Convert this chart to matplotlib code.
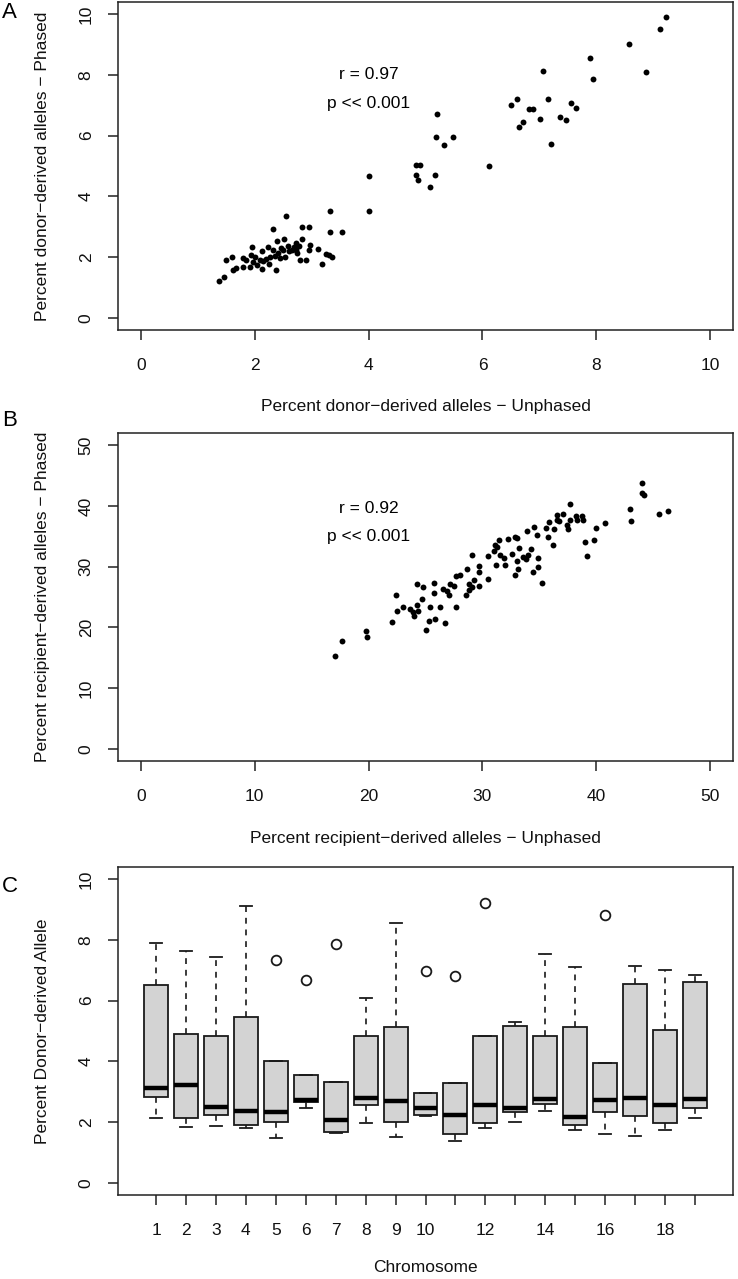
import matplotlib
matplotlib.use("Agg")
import matplotlib.pyplot as plt
import numpy as np

plt.rcParams['font.family'] = ['Liberation Sans', 'DejaVu Sans']

# ---------------- Data ----------------
# Panel A: donor-derived alleles (unphased vs phased)
a_unphased = [1.37, 1.46, 1.49, 1.60, 1.62, 1.68, 1.79, 1.80, 1.91, 1.95, 1.94, 1.97, 2.00, 2.04,
              2.09, 2.12, 2.15, 2.20, 2.24, 2.27, 2.32, 2.32, 2.35, 2.38, 2.39, 2.41, 2.44, 2.46,
              2.50, 2.52, 2.54, 2.55, 2.58, 2.61, 2.66, 2.69, 2.72, 2.73, 2.75, 2.78, 2.80, 2.83,
              2.83, 2.91, 2.95, 2.96, 2.98, 3.12, 3.18, 3.25, 3.30, 3.33, 3.33, 3.35, 3.53, 1.85,
              2.12, 2.25, 4.00, 4.01,
              4.84, 4.90, 4.84, 4.86, 5.16, 5.08, 5.21, 5.19, 5.33, 5.48, 6.11, 6.51, 6.61, 6.81,
              6.88, 7.01, 6.65, 6.72, 7.36, 7.46, 7.21, 7.06, 7.15, 7.56, 7.64, 7.89, 7.94, 8.57,
              8.87, 9.12, 9.22]
a_phased = [1.20, 1.36, 1.89, 2.00, 1.56, 1.64, 1.69, 1.97, 1.67, 2.32, 2.08, 1.83, 2.00, 1.75,
            1.91, 2.21, 1.86, 1.94, 2.32, 2.02, 2.92, 2.24, 2.05, 1.58, 2.54, 2.13, 1.97, 2.30,
            2.24, 2.61, 2.00, 3.34, 2.37, 2.19, 2.24, 2.33, 2.46, 2.24, 2.13, 2.38, 1.91, 2.58,
            2.98, 1.91, 2.98, 2.25, 2.39, 2.27, 1.76, 2.11, 2.06, 3.53, 2.84, 2.02, 2.83, 1.91,
            1.60, 1.78, 4.66, 3.53,
            5.02, 5.03, 4.72, 4.53, 4.69, 4.30, 6.70, 5.94, 5.69, 5.96, 4.99, 7.01, 7.20, 6.88,
            6.88, 6.55, 6.29, 6.45, 6.60, 6.53, 5.71, 8.12, 7.22, 7.09, 6.92, 8.54, 7.88, 9.01,
            8.11, 9.50, 9.92]

# Panel B: recipient-derived alleles (unphased vs phased)
b_unphased = [17.02, 17.66, 19.74, 19.88, 22.08, 22.43, 22.50, 23.04, 23.68, 23.89, 23.95, 24.36,
              24.21, 24.24, 24.74, 24.71, 25.06, 25.35, 25.41, 25.82, 25.73, 25.76, 26.29, 26.52,
              26.69, 26.93, 27.04, 27.13, 27.48, 27.66, 27.69, 28.04, 28.57, 28.66, 28.80, 28.86,
              29.12, 29.04, 29.30, 29.68, 29.74, 29.74, 30.46, 30.53, 30.99, 31.11, 31.20, 31.32,
              31.49, 31.55, 31.93, 31.99, 32.22, 32.60, 32.89, 33.01, 32.83, 33.16, 33.07, 33.22,
              33.53, 33.80, 33.95, 34.01, 34.24, 34.50, 34.47, 34.85, 34.82, 34.88, 35.20, 35.59,
              35.76, 35.85, 36.17, 36.29, 36.52, 36.55, 36.75, 37.11, 37.43, 37.48, 37.72, 37.72,
              38.22, 38.27, 38.74, 38.80, 39.04, 39.18, 39.80, 39.97, 40.73, 42.95, 43.07, 44.00,
              43.98, 44.15, 45.50, 46.30]
b_phased = [15.23, 17.70, 19.40, 18.37, 20.84, 25.25, 22.77, 23.43, 23.05, 22.49, 21.95, 22.77,
            23.76, 27.06, 26.62, 24.59, 19.52, 21.12, 23.38, 21.34, 25.63, 27.34, 23.32, 26.29,
            20.79, 25.96, 25.41, 27.06, 26.79, 23.38, 28.38, 28.66, 25.30, 29.65, 26.19, 27.17,
            31.96, 26.62, 27.72, 26.84, 29.16, 30.15, 27.94, 31.73, 32.51, 33.61, 30.20, 33.22,
            34.32, 31.85, 31.47, 30.25, 34.60, 32.13, 34.87, 34.65, 28.60, 29.54, 30.91, 33.12,
            31.57, 31.24, 35.86, 31.85, 32.95, 36.58, 29.04, 31.35, 35.26, 29.92, 27.23, 36.42,
            34.93, 37.41, 33.55, 36.25, 38.50, 37.62, 37.46, 38.61, 36.80, 36.25, 40.38, 37.62,
            38.39, 37.74, 38.39, 37.74, 33.99, 31.68, 34.32, 36.30, 37.18, 39.55, 37.57, 43.80,
            42.13, 41.75, 38.70, 39.10]

# Panel C: per-chromosome box plot summaries
chromosomes = list(range(1, 20))
chrom_labels = ['1', '2', '3', '4', '5', '6', '7', '8', '9', '10', '', '12', '', '14', '', '16', '', '18', '']
whis_hi = [7.91, 7.62, 7.43, 9.10, 4.01, 3.54, 3.32, 6.10, 8.54, 2.95, 3.30, 4.83, 5.29, 7.52, 7.10, 3.94, 7.15, 7.02, 6.83]
q3 = [6.50, 4.89, 4.83, 5.46, 4.01, 3.54, 3.32, 4.83, 5.14, 2.95, 3.30, 4.83, 5.17, 4.84, 5.14, 3.94, 6.54, 5.04, 6.60]
med = [3.13, 3.21, 2.49, 2.35, 2.32, 2.72, 2.08, 2.79, 2.70, 2.47, 2.24, 2.56, 2.45, 2.77, 2.18, 2.74, 2.79, 2.55, 2.76]
q1 = [2.83, 2.12, 2.25, 1.92, 1.99, 2.67, 1.68, 2.57, 2.02, 2.23, 1.61, 1.96, 2.34, 2.58, 1.92, 2.33, 2.20, 1.96, 2.45]
whis_lo = [2.15, 1.85, 1.87, 1.79, 1.48, 2.48, 1.63, 1.96, 1.50, 2.19, 1.39, 1.80, 1.99, 2.36, 1.75, 1.61, 1.55, 1.75, 2.12]
outliers = {5: [7.34], 6: [6.69], 7: [7.87], 10: [6.98], 11: [6.80], 12: [9.20], 16: [8.82]}

# ---------------- Figure ----------------
W, H = 738, 1279
fig = plt.figure(figsize=(W / 100, H / 100), dpi=100)
LC = '#222222'
FS = 12.5


def make_axes(top, bottom, left=118, right=733):
    return fig.add_axes([left / W, 1 - bottom / H, (right - left) / W, (bottom - top) / H])


def style(ax, xlabel, ylabel, box_h):
    for s in ax.spines.values():
        s.set_linewidth(1.1)
        s.set_color(LC)
    ax.tick_params(axis='both', direction='out', length=7.5, width=1.1, color=LC,
                   labelsize=FS, labelcolor='#111111')
    ax.tick_params(axis='x', pad=13)
    ax.tick_params(axis='y', pad=10, labelrotation=90)
    for lab in ax.get_yticklabels():
        lab.set_va('center')
    ax.set_xlabel(xlabel, fontsize=FS, va='center', color='#111111')
    ax.set_ylabel(ylabel, fontsize=FS, va='center', color='#111111')
    ax.xaxis.set_label_coords(0.5, -77 / box_h)
    ax.yaxis.set_label_coords(-75 / 615, 0.5)


# Panel A
axA = make_axes(2, 330)
axA.scatter(a_unphased, a_phased, s=18, color='black', linewidths=0)
axA.set_xlim(-0.4, 10.4)
axA.set_ylim(-0.4, 10.4)
axA.set_xticks([0, 2, 4, 6, 8, 10])
axA.set_yticks([0, 2, 4, 6, 8, 10])
axA.text(4, 8.0, 'r = 0.97', ha='center', va='center', fontsize=FS)
axA.text(4, 7.05, 'p << 0.001', ha='center', va='center', fontsize=FS)
style(axA, 'Percent donor\u2212derived alleles \u2212 Unphased',
      'Percent donor\u2212derived alleles \u2212 Phased', 328)

# Panel B
axB = make_axes(433, 761)
axB.scatter(b_unphased, b_phased, s=18, color='black', linewidths=0)
axB.set_xlim(-2, 52)
axB.set_ylim(-2, 52)
axB.set_xticks([0, 10, 20, 30, 40, 50])
axB.set_yticks([0, 10, 20, 30, 40, 50])
axB.text(20, 39.6, 'r = 0.92', ha='center', va='center', fontsize=FS)
axB.text(20, 34.9, 'p << 0.001', ha='center', va='center', fontsize=FS)
style(axB, 'Percent recipient\u2212derived alleles \u2212 Unphased',
      'Percent recipient\u2212derived alleles \u2212 Phased', 328)

# Panel C
axC = make_axes(867, 1195)
stats = []
for i, c in enumerate(chromosomes):
    stats.append(dict(med=med[i], q1=q1[i], q3=q3[i], whislo=whis_lo[i], whishi=whis_hi[i],
                      fliers=outliers.get(c, [])))
axC.bxp(stats, positions=chromosomes, widths=0.8, patch_artist=True, capwidths=0.4,
        boxprops=dict(facecolor='#d3d3d3', edgecolor='#1a1a1a', linewidth=1.3),
        medianprops=dict(color='black', linewidth=3.2, solid_capstyle='butt'),
        whiskerprops=dict(color='#1a1a1a', linewidth=1.2, linestyle=(0, (3.5, 3.5))),
        capprops=dict(color='#1a1a1a', linewidth=1.3),
        flierprops=dict(marker='o', markerfacecolor='none', markeredgecolor='#1a1a1a',
                        markersize=7, markeredgewidth=1.3))
axC.set_xlim(-0.27, 20.27)
axC.set_ylim(-0.4, 10.4)
axC.set_xticks(chromosomes)
axC.set_xticklabels(chrom_labels)
axC.set_yticks([0, 2, 4, 6, 8, 10])
style(axC, 'Chromosome', 'Percent Donor\u2212derived Allele', 328)
axC.xaxis.set_label_coords(0.5, -73 / 328)

# Panel letters
fig.text(9 / W, 1 - 13 / H, 'A', fontsize=16, ha='center', va='center')
fig.text(10 / W, 1 - 420 / H, 'B', fontsize=16, ha='center', va='center')
fig.text(10 / W, 1 - 887 / H, 'C', fontsize=16, ha='center', va='center')

fig.savefig('out.png', dpi=100)
